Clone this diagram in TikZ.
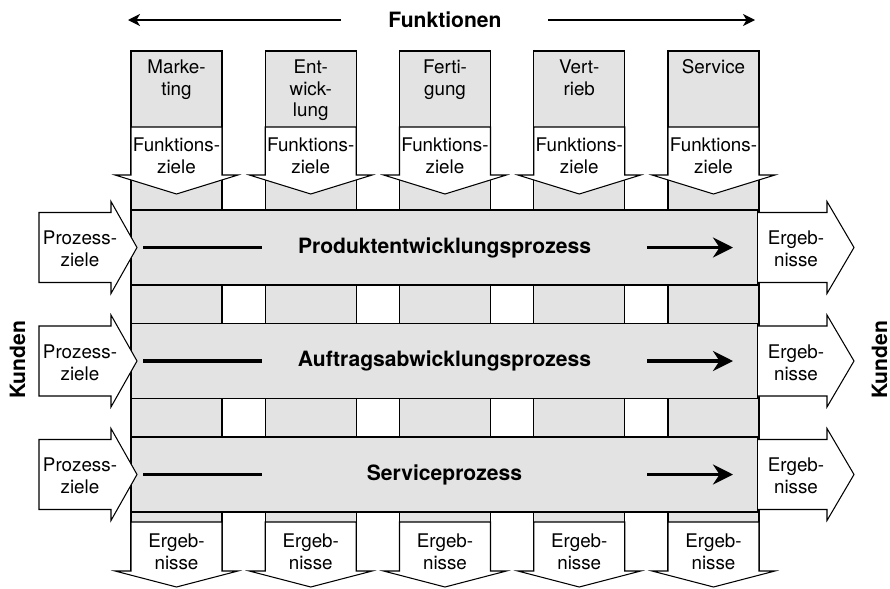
\documentclass[tikz,border=0pt]{standalone}
\usepackage{fontspec}
\setmainfont{TeX Gyre Heros}
\usetikzlibrary{arrows.meta}
\definecolor{boxgrey}{RGB}{227,227,227}

\begin{document}
\begin{tikzpicture}[
    x=0.2mm, y=-0.2mm,
    colbox/.style={draw, fill=boxgrey, line width=0.6pt},
    procbox/.style={draw, fill=boxgrey, line width=0.6pt},
    blockarrow/.style={draw, fill=white, line width=0.6pt, line join=miter},
    txt/.style={font=\fontsize{10.7}{12.5}\selectfont, align=center, inner sep=0pt},
    bold/.style={font=\fontsize{12}{14}\selectfont\bfseries, inner sep=0pt},
    flow/.style={line width=1.8pt},
    funkarrow/.style={line width=0.75pt, -{Stealth[length=2.4mm, width=2.4mm, inset=0.7mm]}}
]
\useasboundingbox (0,0) rectangle (890,588);

% Functions (columns) ---
\foreach \i/\lbl in {0/{Marke-\\ting}, 1/{Ent-\\wick-\\lung}, 2/{Ferti-\\gung}, 3/{Vert-\\rieb}, 4/{Service}} {
    \pgfmathsetmacro{\xa}{131+134.25*\i}
    \pgfmathsetmacro{\xb}{\xa+91}
    \pgfmathsetmacro{\xm}{\xa+45.5}
    \draw[colbox] (\xa,51) rectangle (\xb,571);
    \node[txt, anchor=north] (fn\i) at (\xm,59) {\lbl};
    % Funktionsziele arrow
    \draw[blockarrow] (\xa,127) -- (\xa,175) -- (\xa-16,175) -- (\xm,194)
        -- (\xb+16,175) -- (\xb,175) -- (\xb,127) -- cycle;
    \node[txt, anchor=north] (fz\i) at (\xm,137) {Funktions-\\ziele};
    % Ergebnisse arrow
    \draw[blockarrow] (\xa,522) -- (\xa,571) -- (\xa-16,571) -- (\xm,587)
        -- (\xb+16,571) -- (\xb,571) -- (\xb,522) -- cycle;
    \node[txt, anchor=north] (fe\i) at (\xm,533) {Ergeb-\\nisse};
}

% Processes (rows) ---
\foreach \r/\yc/\name in {1/247.5/Produktentwicklungsprozess, 2/361/Auftragsabwicklungsprozess, 3/474.5/Serviceprozess} {
    \draw[procbox] (131,\yc-37.5) rectangle (758,\yc+37.5);
    \node[bold] (p\r) at (444.5,\yc) {\name};
    % Prozessziele arrow
    \draw[blockarrow] (39,\yc-35) -- (111,\yc-35) -- (111,\yc-46) -- (137,\yc)
        -- (111,\yc+46) -- (111,\yc+35) -- (39,\yc+35) -- cycle;
    \node[txt] (pz\r) at (80,\yc+1.5) {Prozess-\\ziele};
    % Ergebnisse arrow
    \draw[blockarrow] (758,\yc-35) -- (827,\yc-35) -- (827,\yc-46) -- (854,\yc)
        -- (827,\yc+46) -- (827,\yc+35) -- (758,\yc+35);
    \node[txt] (pe\r) at (796,\yc+1.5) {Ergeb-\\nisse};
    % flow
    \coordinate (fa\r) at (143,\yc);
    \coordinate (fb\r) at (262,\yc);
    \coordinate (fc\r) at (647,\yc);
    \coordinate (fd\r) at (733,\yc);
    \draw[flow] (fa\r) -- (fb\r);
    \draw[flow, -{Stealth[length=4mm, width=4mm, inset=1.3mm]}] (fc\r) -- (fd\r);
}

% Title and customers
\node[bold] (funk) at (445,20) {Funktionen};
\coordinate (fl0) at (341,20);
\coordinate (fl1) at (128,20);
\coordinate (fr0) at (548,20);
\coordinate (fr1) at (755,20);
\draw[funkarrow] (fl0) -- (fl1);
\draw[funkarrow] (fr0) -- (fr1);

\node[bold, rotate=90] (kl) at (17.5,360) {Kunden};
\node[bold, rotate=90] (kr) at (879.5,360) {Kunden};
\end{tikzpicture}
\end{document}
